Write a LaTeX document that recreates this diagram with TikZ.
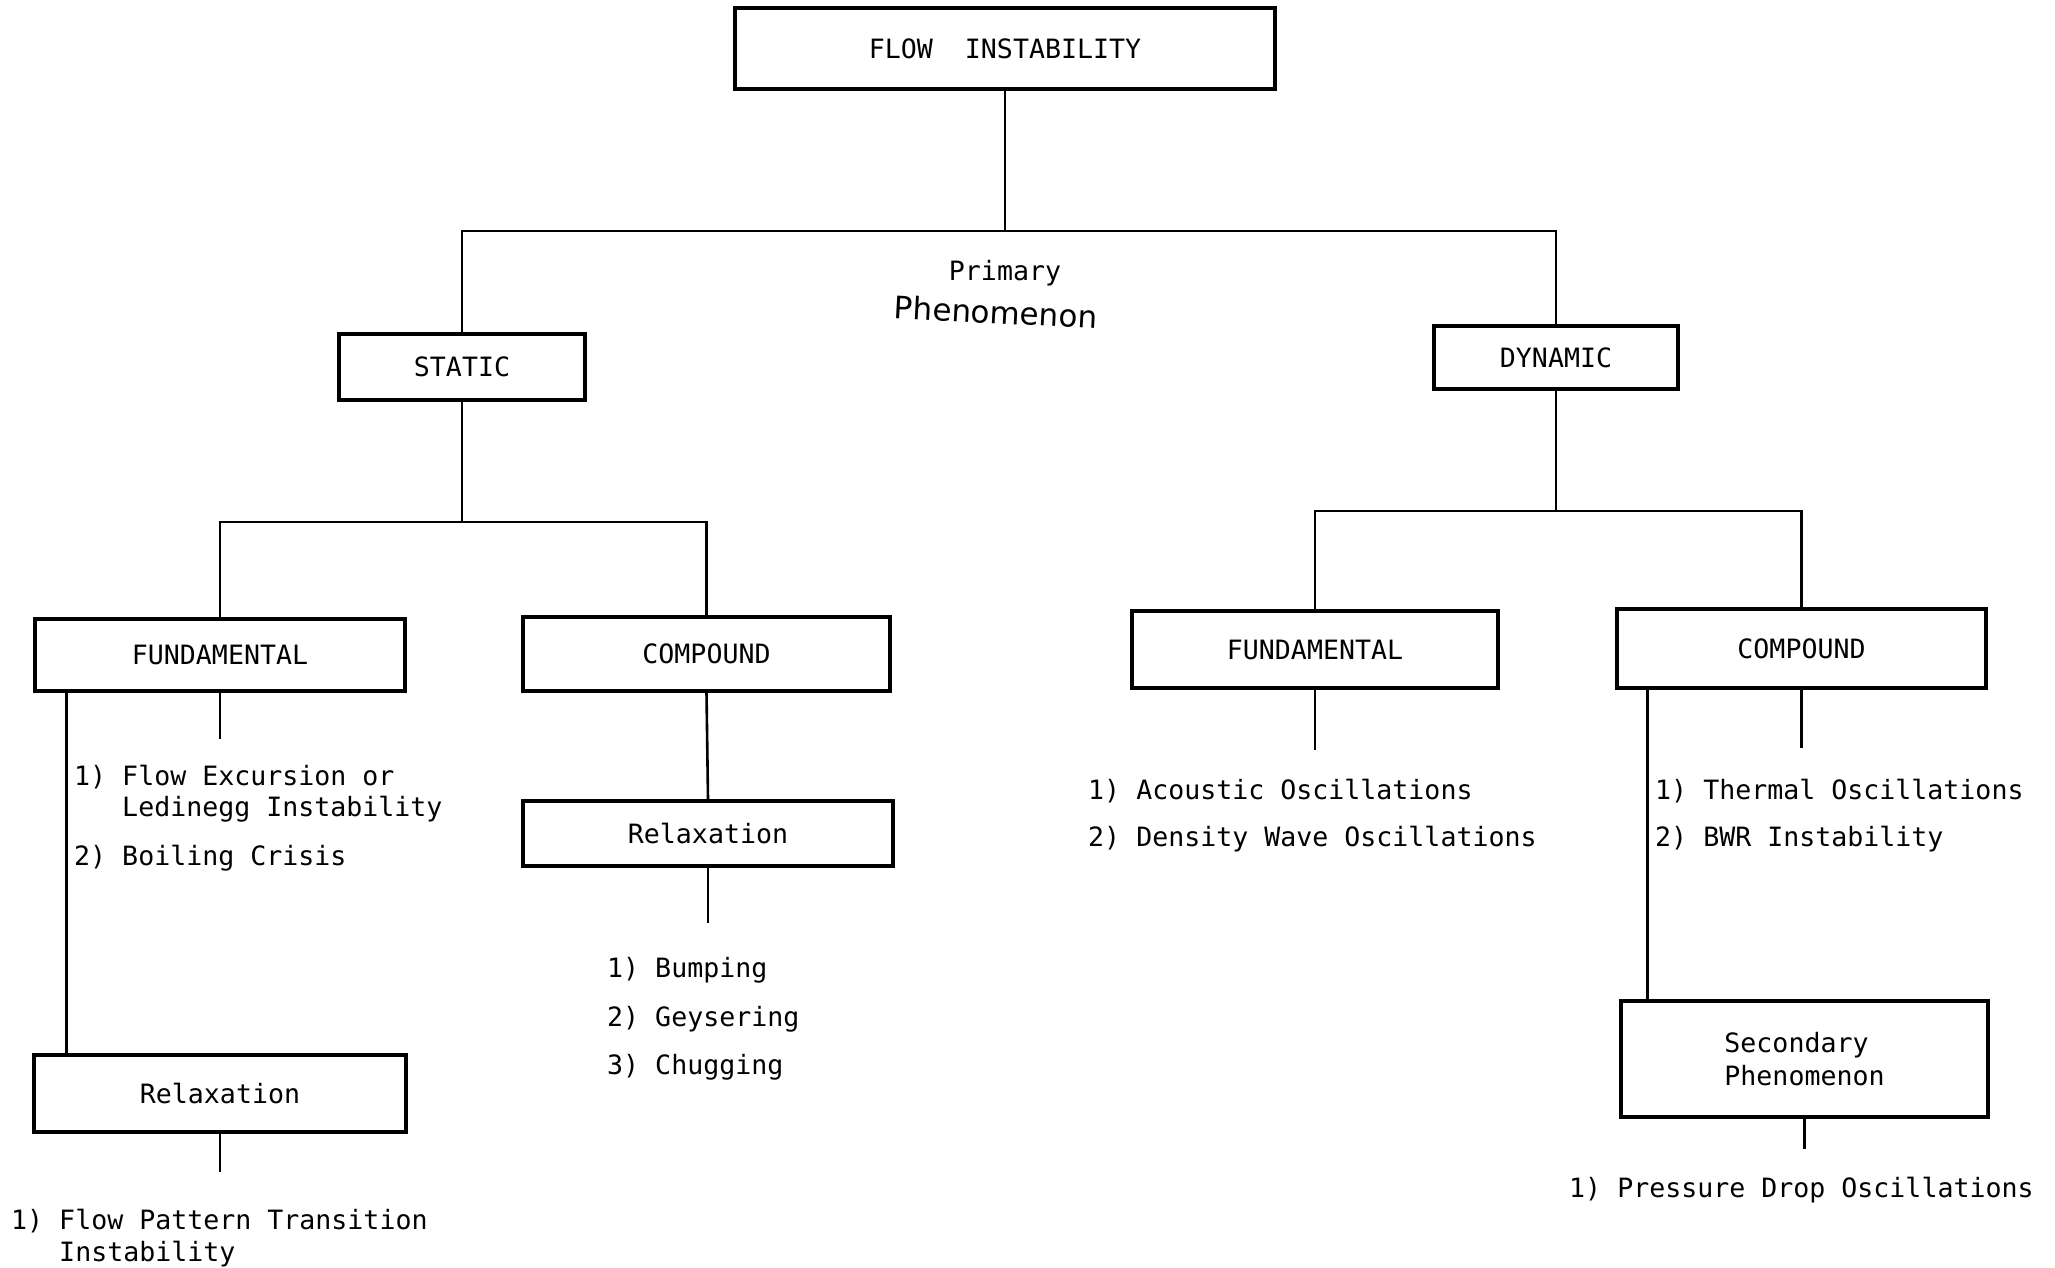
\documentclass[tikz,border=0pt]{standalone}
\usepackage{fontspec}
\newfontfamily\tw{DejaVu Sans Mono}
\newfontfamily\hand{DejaVu Sans}
\usetikzlibrary{calc}
\begin{document}
\begin{tikzpicture}[x=1pt,y=-1pt,
  txt/.style={font=\tw\fontsize{26.6}{30}\selectfont},
  box/.style={draw, line width=3.2pt, inner sep=0pt, txt},
  conn/.style={line width=2.6pt},
  item/.style={anchor=base west, inner sep=0pt, txt}]
\fill[white] (0,0) rectangle (2055,1268);
\useasboundingbox (0,0) rectangle (2055,1268);

% boxes
\node[box, minimum width=540pt, minimum height=81pt] (flow) at (1005,48.5) {FLOW\ \ INSTABILITY};
\node[box, minimum width=246pt, minimum height=66pt] (static) at (462,367) {STATIC};
\node[box, minimum width=244pt, minimum height=63pt] (dynamic) at (1556,357.5) {DYNAMIC};
\node[box, minimum width=370pt, minimum height=72pt] (fundL) at (220,655) {FUNDAMENTAL};
\node[box, minimum width=367pt, minimum height=74pt] (compL) at (706.5,654) {COMPOUND};
\node[box, minimum width=370pt, minimum height=65pt] (relaxC) at (708,833.5) {Relaxation};
\node[box, minimum width=372pt, minimum height=77pt] (relaxF) at (220,1093.5) {Relaxation};
\node[box, minimum width=366pt, minimum height=77pt] (fundR) at (1315,649.5) {FUNDAMENTAL};
\node[box, minimum width=369pt, minimum height=79pt] (compR) at (1801.5,648.5) {COMPOUND};
\node[box, minimum width=367pt, minimum height=116pt, align=left,
      font=\tw\fontsize{26.6}{33}\selectfont] (second) at (1804.5,1059) {Secondary\\Phenomenon};

% labels
\node[txt, inner sep=0pt] (primary) at (1005,273) {Primary};
\node[font=\hand\fontsize{31}{34}\selectfont, inner sep=0pt, rotate=-3] (phen) at (996,312) {Phenomenon};

% buses
\coordinate (busA) at (0,231);
\coordinate (busB) at (0,522);
\coordinate (busC) at (0,511);
\draw[conn] (flow.south) -- (flow.south |- busA);
\draw[conn] (static.north) -- (static.north |- busA) -- (dynamic.north |- busA) -- (dynamic.north);
\draw[conn] (static.south) -- (static.south |- busB);
\draw[conn] (fundL.north) -- (fundL.north |- busB) -- (compL.north |- busB) -- (compL.north);
\draw[conn] (dynamic.south) -- (dynamic.south |- busC);
\draw[conn] (fundR.north) -- (fundR.north |- busC) -- (compR.north |- busC) -- (compR.north);

% stubs
\coordinate (eFL) at ($(fundL.south)+(0,46)$);
\coordinate (eRC) at ($(relaxC.south)+(0,55)$);
\coordinate (eRF) at ($(relaxF.south)+(0,38)$);
\coordinate (eFR) at ($(fundR.south)+(0,60)$);
\coordinate (eCR) at ($(compR.south)+(0,58)$);
\coordinate (eSP) at ($(second.south)+(0,30)$);
\draw[conn] (fundL.south) -- (eFL);
\draw[conn] (relaxC.south) -- (eRC);
\draw[conn] (relaxF.south) -- (eRF);
\draw[conn] (fundR.south) -- (eFR);
\draw[conn] (compR.south) -- (eCR);
\draw[conn] (second.south) -- (eSP);
\draw[conn] (compL.south) -- (relaxC.north);

% side lines
\coordinate (cL) at ($(fundL.south west)+(33,0)$);
\draw[conn] (cL) -- (cL |- relaxF.north);
\coordinate (cR) at ($(compR.south west)+(32,0)$);
\draw[conn] (cR) -- (cR |- second.north);

% lists
\node[item] (a1) at (74,785) {1) Flow Excursion or};
\node[item] (a2) at (74,816) {\phantom{1) }Ledinegg Instability};
\node[item] (a3) at (74,865) {2) Boiling Crisis};
\node[item] (b1) at (11,1229) {1) Flow Pattern Transition};
\node[item] (b2) at (11,1261) {\phantom{1) }Instability};
\node[item] (c1) at (607,977) {1) Bumping};
\node[item] (c2) at (607,1026) {2) Geysering};
\node[item] (c3) at (607,1074) {3) Chugging};
\node[item] (d1) at (1088,799) {1) Acoustic Oscillations};
\node[item] (d2) at (1088,846) {2) Density Wave Oscillations};
\node[item] (e1) at (1655,799) {1) Thermal Oscillations};
\node[item] (e2) at (1655,846) {2) BWR Instability};
\node[item] (f1) at (1569,1197) {1) Pressure Drop Oscillations};
\end{tikzpicture}
\end{document}
